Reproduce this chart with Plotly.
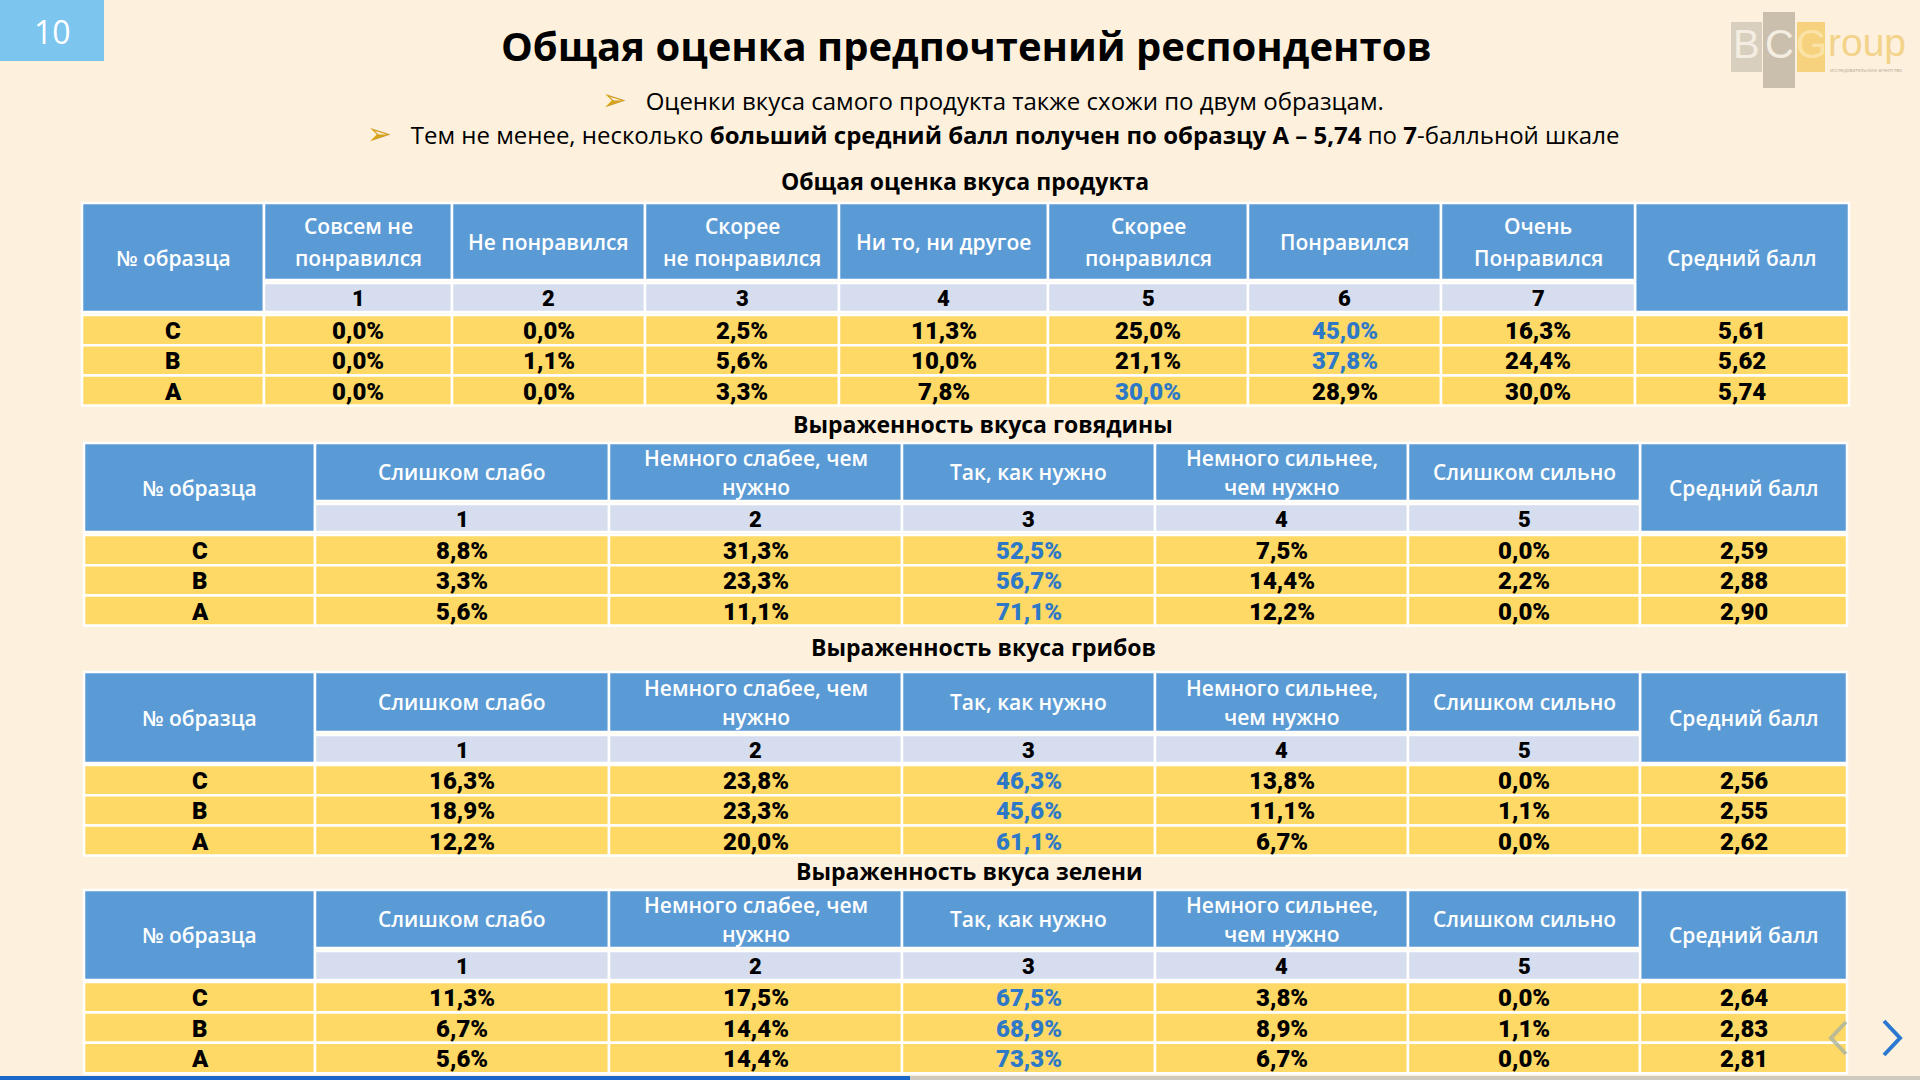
import plotly.graph_objects as go

# ---- data -------------------------------------------------------------
page_no = "10"
title = "Общая оценка предпочтений респондентов"
bullet_1 = "Оценки вкуса самого продукта также схожи по двум образцам."
bullet_2 = ("Тем не менее, несколько <b>больший средний балл получен по образцу А – 5,74</b>"
            " по <b>7</b>-балльной шкале")

samples = ["C", "B", "A"]
sample_header = "№ образца"
mean_header = "Средний балл"

taste_title = "Общая оценка вкуса продукта"
taste_headers = ["Совсем не|понравился", "Не понравился", "Скорее|не понравился",
                 "Ни то, ни другое", "Скорее|понравился", "Понравился", "Очень|Понравился"]
taste_scale = [1, 2, 3, 4, 5, 6, 7]
taste_C = [0.0, 0.0, 2.5, 11.3, 25.0, 45.0, 16.3]
taste_B = [0.0, 1.1, 5.6, 10.0, 21.1, 37.8, 24.4]
taste_A = [0.0, 0.0, 3.3, 7.8, 30.0, 28.9, 30.0]
taste_mean = [5.61, 5.62, 5.74]
taste_hi = [5, 5, 4]

intensity_headers = ["Слишком слабо", "Немного слабее, чем|нужно", "Так, как нужно",
                     "Немного сильнее,|чем нужно", "Слишком сильно"]
intensity_scale = [1, 2, 3, 4, 5]

beef_title = "Выраженность вкуса говядины"
beef_C = [8.8, 31.3, 52.5, 7.5, 0.0]
beef_B = [3.3, 23.3, 56.7, 14.4, 2.2]
beef_A = [5.6, 11.1, 71.1, 12.2, 0.0]
beef_mean = [2.59, 2.88, 2.90]

mush_title = "Выраженность вкуса грибов"
mush_C = [16.3, 23.8, 46.3, 13.8, 0.0]
mush_B = [18.9, 23.3, 45.6, 11.1, 1.1]
mush_A = [12.2, 20.0, 61.1, 6.7, 0.0]
mush_mean = [2.56, 2.55, 2.62]

herb_title = "Выраженность вкуса зелени"
herb_C = [11.3, 17.5, 67.5, 3.8, 0.0]
herb_B = [6.7, 14.4, 68.9, 8.9, 1.1]
herb_A = [5.6, 14.4, 73.3, 6.7, 0.0]
herb_mean = [2.64, 2.83, 2.81]
intensity_hi = [2, 2, 2]

# ---- style ------------------------------------------------------------
BG = "#fdf1de"
HEAD = "#5b9bd5"
NUMROW = "#d5ddef"
YEL = "#ffd966"
HILITE = "#2e78c8"
SANS = "Open Sans, Noto Sans, sans-serif"
NARROW = "Roboto, Liberation Sans, sans-serif"

fig = go.Figure()
shapes = []
notes = []


def rect(x0, y0, x1, y1, color, lw=2.5):
    shapes.append(dict(type="rect", xref="x", yref="y", x0=x0, y0=y0, x1=x1, y1=y1,
                       fillcolor=color, line=dict(color="white", width=lw), layer="below"))


def text(x, y, s, size, color="black", family=SANS, weight=None, xanchor="center"):
    f = dict(size=size, color=color, family=family)
    if weight:
        f["weight"] = weight
    notes.append(dict(x=x, y=y, xref="x", yref="y", text=s, showarrow=False,
                      xanchor=xanchor, yanchor="middle", font=f))


def fmt(v, d=1):
    return f"{v:.{d}f}".replace(".", ",")


def draw_table(title_txt, title_x, title_y, edges, top, head_bot, num_top, num_bot,
               row_top, row_h, headers, scale, rows, means, hi, line_gap):
    text(title_x, title_y, f"<b>{title_txt}</b>", 23)
    # merged header cells
    rect(edges[0], top, edges[1], num_bot, HEAD)
    text((edges[0] + edges[1]) / 2, (top + num_bot) / 2, sample_header, 21, "white", weight=600)
    rect(edges[-2], top, edges[-1], num_bot, HEAD)
    text((edges[-2] + edges[-1]) / 2, (top + num_bot) / 2, mean_header, 21, "white", weight=600)
    for i, h in enumerate(headers):
        x0, x1 = edges[i + 1], edges[i + 2]
        rect(x0, top, x1, head_bot, HEAD)
        parts = h.split("|")
        yc = (top + head_bot) / 2
        for k, p in enumerate(parts):
            text((x0 + x1) / 2, yc + (k - (len(parts) - 1) / 2) * line_gap, p, 21, "white",
                 weight=600)
        rect(x0, num_top, x1, num_bot, NUMROW)
        text((x0 + x1) / 2, (num_top + num_bot) / 2 + 1, str(scale[i]), 22,
             family=NARROW, weight=900)
    for r, vals in enumerate(rows):
        y0 = row_top + r * row_h
        y1 = y0 + row_h
        yc = (y0 + y1) / 2 + 1
        rect(edges[0], y0, edges[1], y1, YEL)
        text((edges[0] + edges[1]) / 2, yc, samples[r], 24, family=NARROW, weight=900)
        for i, v in enumerate(vals):
            x0, x1 = edges[i + 1], edges[i + 2]
            rect(x0, y0, x1, y1, YEL)
            col = HILITE if hi[r] == i else "black"
            text((x0 + x1) / 2, yc, f"{fmt(v)}%", 24, col, family=NARROW, weight=900)
        rect(edges[-2], y0, edges[-1], y1, YEL)
        text((edges[-2] + edges[-1]) / 2, yc, fmt(means[r], 2), 24, family=NARROW, weight=900)


# header area
shapes.append(dict(type="rect", xref="x", yref="y", x0=0, y0=0, x1=104, y1=61,
                   fillcolor="#7cc5ee", line=dict(width=0)))
text(52, 31, page_no, 32, "white")
text(966, 45, f"<b>{title}</b>", 40)
arrow = "<span style='color:#d4a21c;font-size:30px'>➢</span>"
text(993, 98, f"{arrow}   {bullet_1}", 24)
text(993, 132, f"{arrow}   {bullet_2}", 24)

# logo
shapes.append(dict(type="rect", xref="x", yref="y", x0=1731, y0=22, x1=1762, y1=72,
                   fillcolor="#d9cfbf", line=dict(width=0)))
shapes.append(dict(type="rect", xref="x", yref="y", x0=1763, y0=12, x1=1795, y1=88,
                   fillcolor="#c9bfac", line=dict(width=0)))
shapes.append(dict(type="rect", xref="x", yref="y", x0=1797, y0=22, x1=1825, y1=72,
                   fillcolor="#f6d27e", line=dict(width=0)))
text(1746, 44, "B", 40, "#f4ede2", family="Liberation Sans")
text(1779, 44, "C", 40, "#f4ede2", family="Liberation Sans")
text(1811, 44, "G", 40, "#fbe3a6", family="Liberation Sans")
text(1826, 42, "roup", 39, "#f3d389", family="Liberation Sans", xanchor="left")
text(1828, 70, "исследовательское агентство", 5, "#b9ad96", xanchor="left")

t1_edges = [82, 264, 452, 645, 839, 1048, 1248, 1441, 1635, 1849]
t_edges = [84, 315, 609, 902, 1155, 1408, 1640, 1847]

draw_table(taste_title, 965, 181, t1_edges, 203, 280, 283, 312, 315, 30.2,
           taste_headers, taste_scale, [taste_C, taste_B, taste_A], taste_mean, taste_hi, 32)
draw_table(beef_title, 983, 424, t_edges, 443, 501, 504, 532, 535, 30.2,
           intensity_headers, intensity_scale, [beef_C, beef_B, beef_A], beef_mean,
           intensity_hi, 29)
draw_table(mush_title, 983, 647, t_edges, 672, 732, 735, 763, 765, 30.2,
           intensity_headers, intensity_scale, [mush_C, mush_B, mush_A], mush_mean,
           intensity_hi, 29)
draw_table(herb_title, 969, 871, t_edges, 890, 948, 951, 980, 982, 30.4,
           intensity_headers, intensity_scale, [herb_C, herb_B, herb_A], herb_mean,
           intensity_hi, 29)

# navigation arrows and progress bar
shapes.append(dict(type="path", xref="x", yref="y", path="M 1846 1022 L 1831 1038 L 1846 1054",
                   line=dict(color="#a9b4a0", width=4), opacity=0.8))
shapes.append(dict(type="path", xref="x", yref="y", path="M 1884 1021 L 1900 1038 L 1884 1055",
                   line=dict(color="#2a78d0", width=4)))
shapes.append(dict(type="rect", xref="x", yref="y", x0=0, y0=1076, x1=910, y1=1080,
                   fillcolor="#1a66c9", line=dict(width=0)))
shapes.append(dict(type="rect", xref="x", yref="y", x0=910, y0=1076, x1=1920, y1=1080,
                   fillcolor="#cfcac0", line=dict(width=0)))

fig.update_layout(
    width=1920, height=1080,
    margin=dict(l=0, r=0, t=0, b=0),
    paper_bgcolor=BG, plot_bgcolor=BG,
    xaxis=dict(range=[0, 1920], visible=False, fixedrange=True),
    yaxis=dict(range=[1080, 0], visible=False, fixedrange=True),
    shapes=shapes, annotations=notes, showlegend=False,
)

fig.write_html("out.html", config={"displayModeBar": False, "staticPlot": True},
               post_script="document.body.style.margin='0';document.body.style.overflow='hidden';")
